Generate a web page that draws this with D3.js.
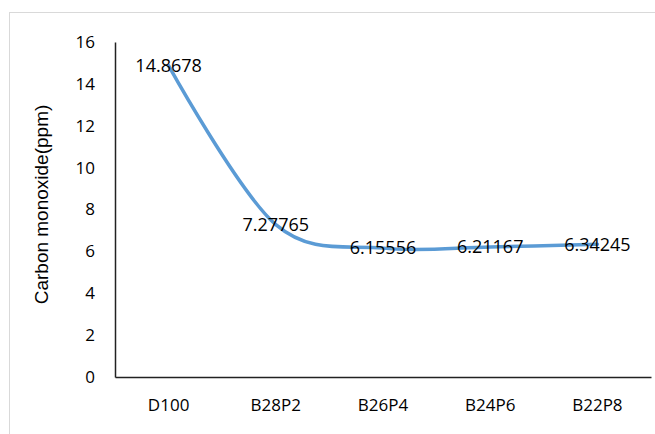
<!DOCTYPE html>
<html>
<head>
<meta charset="utf-8">
<script src="https://cdn.jsdelivr.net/npm/d3@7"></script>
<style>
  html, body { margin: 0; padding: 0; background: #fff; }
  svg { display: block; }
</style>
</head>
<body>
<svg id="chart" width="655" height="434"></svg>
<script>
// Carbon monoxide emission per fuel blend
const categories = ["D100", "B28P2", "B26P4", "B24P6", "B22P8"];
const coValues = [14.8678, 7.27765, 6.15556, 6.21167, 6.34245];
const yTicks = [0, 2, 4, 6, 8, 10, 12, 14, 16];

const svg = d3.select("#chart");
const W = 655, H = 434;
const margin = { left: 115, right: 4, top: 42, bottom: 57 };

// light frame around the chart area
svg.append("rect")
  .attr("x", 9.5).attr("y", 12.5)
  .attr("width", W + 20).attr("height", H + 20)
  .attr("fill", "none").attr("stroke", "#d9d9d9").attr("stroke-width", 1);

const x = d3.scaleBand()
  .domain(categories)
  .range([margin.left, W - margin.right])
  .paddingInner(0).paddingOuter(0);

const y = d3.scaleLinear()
  .domain([0, 16])
  .range([H - margin.bottom, margin.top]);

const labelFont = "'Open Sans', sans-serif";

// y axis
const yAxis = svg.append("g")
  .attr("transform", `translate(${margin.left},0)`)
  .call(d3.axisLeft(y).tickValues(yTicks).tickSize(0).tickPadding(20).tickFormat(d3.format("d")));
yAxis.select(".domain").attr("stroke", "#222").attr("stroke-width", 1.5);
yAxis.selectAll("text")
  .attr("font-family", labelFont).attr("font-size", 17).attr("fill", "#000");

// x axis
const xAxis = svg.append("g")
  .attr("transform", `translate(0,${y(0)})`)
  .call(d3.axisBottom(x).tickSize(0).tickPadding(22));
xAxis.select(".domain").attr("stroke", "#222").attr("stroke-width", 1.5);
xAxis.selectAll("text")
  .attr("font-family", labelFont).attr("font-size", 17).attr("fill", "#000");

// axis title
svg.append("text")
  .attr("transform", `translate(48,${(y(0) + y(16)) / 2 - 5}) rotate(-90)`)
  .attr("text-anchor", "middle")
  .attr("font-family", "'Liberation Sans', Arial, sans-serif")
  .attr("font-size", 19)
  .attr("fill", "#000")
  .text("Carbon monoxide(ppm)");

// smoothed series line
const pts = categories.map((c, i) => [x(c) + x.bandwidth() / 2, y(coValues[i])]);
const line = d3.line().curve(d3.curveCardinal.tension(0));
svg.append("path")
  .attr("d", line(pts))
  .attr("fill", "none")
  .attr("stroke", "#5b9bd5")
  .attr("stroke-width", 3.5)
  .attr("stroke-linecap", "round");

// value labels centred on each point
svg.selectAll("text.value")
  .data(categories)
  .join("text")
  .attr("class", "value")
  .attr("x", (c) => x(c) + x.bandwidth() / 2)
  .attr("y", (c, i) => y(coValues[i]))
  .attr("dy", "0.35em")
  .attr("text-anchor", "middle")
  .attr("font-family", labelFont)
  .attr("font-size", 18)
  .attr("fill", "#000")
  .text((c, i) => String(coValues[i]));
</script>
</body>
</html>
